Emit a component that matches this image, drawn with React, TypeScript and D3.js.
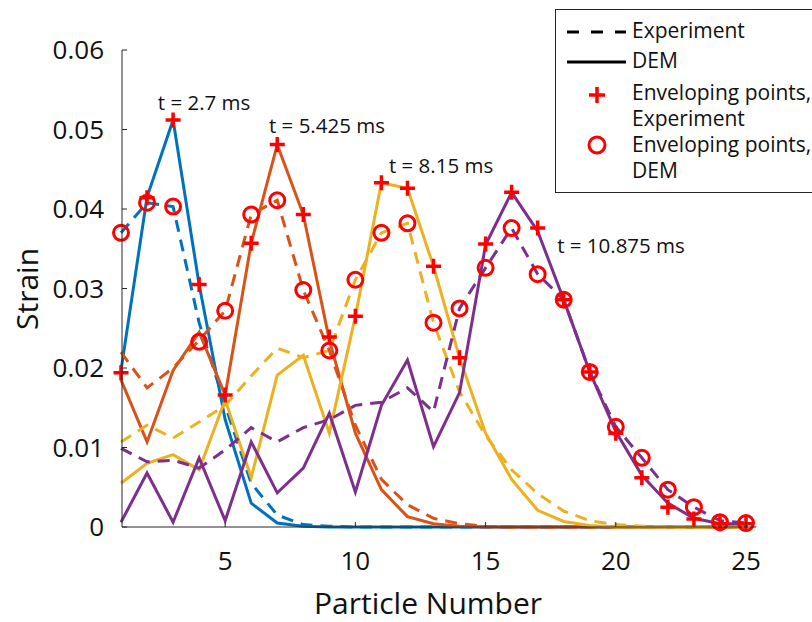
import React from "react";
import * as d3 from "d3";

const particles = d3.range(1, 26);

// t = 2.7 ms
const blueExp = [0.037, 0.0408, 0.0403, 0.0257, 0.0153, 0.0055, 0.0015, 0.0003, 0.0001, 0, 0, 0, 0, 0, 0, 0, 0, 0, 0, 0, 0, 0, 0, 0, 0];
const blueDem = [0.0197, 0.0415, 0.0512, 0.0305, 0.0135, 0.003, 0.0005, 0.0001, 0, 0, 0, 0, 0, 0, 0, 0, 0, 0, 0, 0, 0, 0, 0, 0, 0];
// t = 5.425 ms
const orangeExp = [0.022, 0.0175, 0.02, 0.0235, 0.0272, 0.0393, 0.0411, 0.0298, 0.0222, 0.0128, 0.006, 0.0028, 0.0011, 0.0004, 0.0001, 0, 0, 0, 0, 0, 0, 0, 0, 0, 0];
const orangeDem = [0.0185, 0.0107, 0.0197, 0.0245, 0.0166, 0.0357, 0.0481, 0.0393, 0.0235, 0.0118, 0.0047, 0.0013, 0.0004, 0.0001, 0, 0, 0, 0, 0, 0, 0, 0, 0, 0, 0];
// t = 8.15 ms
const yellowExp = [0.0107, 0.0128, 0.0112, 0.0132, 0.0153, 0.019, 0.0225, 0.0213, 0.0222, 0.0311, 0.037, 0.0382, 0.0257, 0.017, 0.0115, 0.0072, 0.0042, 0.002, 0.0008, 0.0003, 0.0001, 0, 0, 0, 0];
const yellowDem = [0.0055, 0.008, 0.0091, 0.0072, 0.016, 0.0062, 0.0191, 0.0216, 0.0118, 0.0265, 0.0433, 0.0426, 0.0328, 0.0213, 0.0118, 0.006, 0.0021, 0.0007, 0.0002, 0, 0, 0, 0, 0, 0];
// t = 10.875 ms
const purpleExp = [0.0099, 0.0082, 0.0084, 0.0074, 0.0097, 0.0125, 0.0107, 0.0125, 0.0135, 0.0153, 0.0157, 0.0175, 0.0145, 0.0275, 0.0326, 0.0376, 0.0318, 0.0286, 0.0195, 0.0126, 0.0087, 0.0047, 0.0025, 0.0008, 0.0005];
const purpleDem = [0.0006, 0.0068, 0.0006, 0.0087, 0.0008, 0.0107, 0.0043, 0.0074, 0.0143, 0.0044, 0.0153, 0.021, 0.0101, 0.0169, 0.0355, 0.0421, 0.0372, 0.0286, 0.0195, 0.012, 0.0065, 0.003, 0.0011, 0.0004, 0.0004];

// enveloping points
const envExp = [0.0194, 0.0414, 0.0512, 0.0305, 0.0166, 0.0357, 0.0481, 0.0393, 0.0239, 0.0265, 0.0433, 0.0426, 0.0328, 0.0213, 0.0356, 0.0421, 0.0376, 0.0286, 0.0195, 0.0118, 0.0062, 0.0025, 0.001, 0.0004, 0.0004];
const envDem = [0.037, 0.0408, 0.0403, 0.0233, 0.0272, 0.0393, 0.0411, 0.0298, 0.0222, 0.0311, 0.037, 0.0382, 0.0257, 0.0275, 0.0326, 0.0376, 0.0318, 0.0286, 0.0195, 0.0126, 0.0087, 0.0047, 0.0025, 0.0006, 0.0005];

const xTicks = [5, 10, 15, 20, 25];
const yTicks = [0, 0.01, 0.02, 0.03, 0.04, 0.05, 0.06];

const series = [
  { name: "t = 2.7 ms", color: "#0072BD", exp: blueExp, dem: blueDem, label: { x: 4.19, y: 0.0525 } },
  { name: "t = 5.425 ms", color: "#D95319", exp: orangeExp, dem: orangeDem, label: { x: 8.91, y: 0.0496 } },
  { name: "t = 8.15 ms", color: "#EDB120", exp: yellowExp, dem: yellowDem, label: { x: 13.29, y: 0.0445 } },
  { name: "t = 10.875 ms", color: "#7E2F8E", exp: purpleExp, dem: purpleDem, label: { x: 20.2, y: 0.0345 } },
];

const font = "'Open Sans', 'Noto Sans', sans-serif";
const axisColor = "#262626";

const Cross = ({ cx, cy, r = 7.5 }) => (
  <path
    d={`M${cx - r},${cy}H${cx + r}M${cx},${cy - r}V${cy + r}`}
    stroke="#FF0000"
    strokeWidth={3.5}
    fill="none"
  />
);

const Ring = ({ cx, cy, r = 7.5 }) => (
  <circle cx={cx} cy={cy} r={r} stroke="#FF0000" strokeWidth={3} fill="none" />
);

export default function App() {
  const width = 812;
  const height = 622;

  const x = d3.scaleLinear().domain([1, 25]).range([121, 746]);
  const y = d3.scaleLinear().domain([0, 0.06]).range([527, 50]);

  const line = d3
    .line<number>()
    .x((_, i) => x(particles[i]))
    .y((d) => y(d));

  const x0 = 122;
  const xEnd = x(25.4);

  return (
    <svg
      width={width}
      height={height}
      style={{ position: "absolute", left: 0, top: 0, background: "#fff" }}
      fontFamily={font}
    >
      <rect width={width} height={height} fill="#fff" />

      {/* curves */}
      {series.map((s) => (
        <g key={s.name}>
          <path d={line(s.exp)} fill="none" stroke={s.color} strokeWidth={3} strokeDasharray="12,8" />
          <path d={line(s.dem)} fill="none" stroke={s.color} strokeWidth={3} strokeLinejoin="miter" />
        </g>
      ))}

      {/* enveloping markers */}
      {envExp.map((v, i) => (
        <Cross key={`c${i}`} cx={x(particles[i])} cy={y(v)} />
      ))}
      {envDem.map((v, i) => (
        <Ring key={`o${i}`} cx={x(particles[i])} cy={y(v)} />
      ))}

      {/* time labels */}
      {series.map((s) => (
        <text
          key={`l${s.name}`}
          x={x(s.label.x)}
          y={y(s.label.y)}
          fontSize={20.5}
          textAnchor="middle"
          fill="#111"
        >
          {s.name}
        </text>
      ))}

      {/* axes */}
      <line x1={x0} x2={x0} y1={y(0.06)} y2={y(0)} stroke={axisColor} strokeWidth={1} />
      <line x1={x0} x2={xEnd} y1={y(0)} y2={y(0)} stroke={axisColor} strokeWidth={1} />
      {yTicks.map((t) => (
        <g key={`yt${t}`}>
          <line x1={x0} x2={x0 + 5} y1={y(t)} y2={y(t)} stroke={axisColor} />
          <text x={104} y={y(t)} dy="0.36em" textAnchor="end" fontSize={26} fill="#111">
            {t === 0 ? "0" : d3.format(".2f")(t)}
          </text>
        </g>
      ))}
      {xTicks.map((t) => (
        <g key={`xt${t}`}>
          <line x1={x(t)} x2={x(t)} y1={y(0)} y2={y(0) - 5} stroke={axisColor} />
          <text x={x(t)} y={570} textAnchor="middle" fontSize={26} fill="#111">
            {t}
          </text>
        </g>
      ))}
      <text x={428} y={614} textAnchor="middle" fontSize={30} fill="#111">
        Particle Number
      </text>
      <text
        transform={`translate(38,289) rotate(-90)`}
        textAnchor="middle"
        fontSize={30}
        fill="#111"
      >
        Strain
      </text>

      {/* legend */}
      <g>
        <rect x={555.5} y={9.5} width={280} height={183} fill="#fff" stroke={axisColor} strokeWidth={1} />
        <line x1={567} x2={626} y1={32} y2={32} stroke="#000" strokeWidth={3} strokeDasharray="12,12" />
        <line x1={567} x2={626} y1={62} y2={62} stroke="#000" strokeWidth={3} />
        <Cross cx={597} cy={95} r={8} />
        <Ring cx={597} cy={145} r={8} />
        <g fontSize={21} fill="#111">
          <text x={632} y={38}>Experiment</text>
          <text x={632} y={68}>DEM</text>
          <text x={632} y={100}>Enveloping points,</text>
          <text x={632} y={126}>Experiment</text>
          <text x={632} y={152}>Enveloping points,</text>
          <text x={632} y={178}>DEM</text>
        </g>
      </g>
    </svg>
  );
}
